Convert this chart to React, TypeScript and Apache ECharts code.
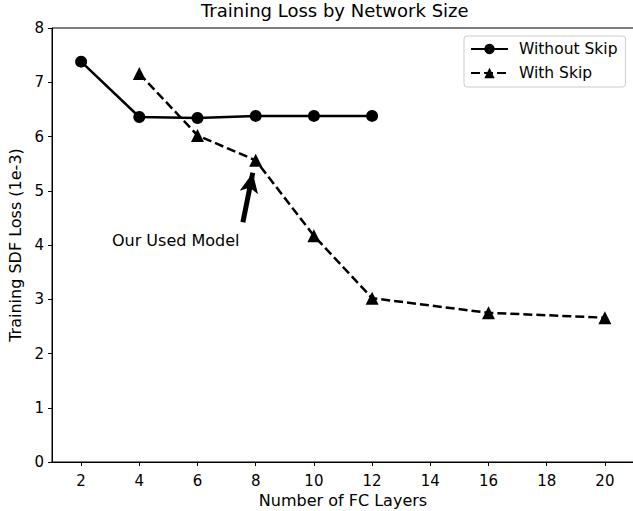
import React, { useEffect, useRef } from "react";
import * as echarts from "echarts";

const withoutSkipX = [2, 4, 6, 8, 10, 12];
const withoutSkipY = [7.38, 6.36, 6.34, 6.38, 6.38, 6.38];
const withSkipX = [4, 6, 8, 10, 12, 16, 20];
const withSkipY = [7.16, 6.02, 5.56, 4.17, 3.02, 2.75, 2.66];
const xTicks = [2, 4, 6, 8, 10, 12, 14, 16, 18, 20];
const arrowTail = [7.56, 4.42];
const arrowTip = [7.9, 5.33];
const annotationPos = [3.06, 4.09];
const annotationText = "Our Used Model";

const FONT = "DejaVu Sans";

export default function App() {
  const ref = useRef<HTMLDivElement>(null);
  useEffect(() => {
    if (!ref.current) return;
    const chart = echarts.init(ref.current, null, { renderer: "svg" });
    const pair = (xs: number[], ys: number[]) => xs.map((x, i) => [x, ys[i]]);
    chart.setOption({
      animation: false,
      backgroundColor: "#fff",
      textStyle: { fontFamily: FONT, color: "#000" },
      title: {
        text: "Training Loss by Network Size",
        left: 201,
        top: 1,
        padding: 0,
        textStyle: { fontFamily: FONT, fontSize: 18, fontWeight: "normal", color: "#000" },
      },
      grid: {
        left: 52,
        top: 28,
        width: 582,
        height: 434,
        containLabel: false,
        outerBoundsMode: "none",
        show: true,
        borderColor: "#000",
        borderWidth: 1,
      },
      legend: {
        orient: "vertical",
        left: 464,
        top: 36,
        padding: [5, 8, 6, 6],
        itemGap: 8,
        itemWidth: 37,
        itemHeight: 13,
        borderColor: "#cccccc",
        borderWidth: 1,
        borderRadius: 3,
        textStyle: { fontFamily: FONT, fontSize: 15.5, color: "#000", padding: [0, 0, 0, 6] },
        data: ["Without Skip", "With Skip"],
      },
      xAxis: {
        type: "value",
        min: 1,
        max: 21,
        name: "Number of FC Layers",
        nameLocation: "middle",
        nameGap: 30,
        nameTextStyle: { fontFamily: FONT, fontSize: 16, color: "#000" },
        splitLine: { show: false },
        axisLine: { lineStyle: { color: "#000", width: 1 } },
        axisTick: { length: 4, lineStyle: { color: "#000" }, customValues: xTicks },
        axisLabel: { customValues: xTicks, fontSize: 15, color: "#000", margin: 11, fontFamily: FONT },
      },
      yAxis: {
        type: "value",
        min: 0,
        max: 8,
        interval: 1,
        name: "Training SDF Loss (1e-3)",
        nameLocation: "middle",
        nameGap: 28,
        nameTextStyle: { fontFamily: FONT, fontSize: 16, color: "#000" },
        splitLine: { show: false },
        axisLine: { show: true, lineStyle: { color: "#000", width: 1 } },
        axisTick: { show: true, length: 4, lineStyle: { color: "#000" } },
        axisLabel: { fontSize: 15, color: "#000", margin: 8, fontFamily: FONT },
      },
      series: [
        {
          name: "Without Skip",
          type: "line",
          data: pair(withoutSkipX, withoutSkipY),
          symbol: "circle",
          symbolSize: 12,
          itemStyle: { color: "#000" },
          lineStyle: { color: "#000", width: 2.5 },
        },
        {
          name: "With Skip",
          type: "line",
          data: pair(withSkipX, withSkipY),
          symbol: "triangle",
          symbolSize: 13,
          itemStyle: { color: "#000" },
          lineStyle: { color: "#000", width: 2.5, type: [9, 4] },
          markLine: {
            silent: true,
            symbol: ["none", "arrow"],
            symbolSize: [14, 20],
            label: { show: false },
            lineStyle: { color: "#000", width: 5, type: "solid" },
            data: [[{ coord: arrowTail }, { coord: arrowTip }]],
          },
          markPoint: {
            silent: true,
            symbol: "circle",
            symbolSize: 0,
            data: [
              {
                coord: annotationPos,
                label: {
                  show: true,
                  position: "right",
                  distance: 0,
                  formatter: annotationText,
                  fontFamily: FONT,
                  fontSize: 16,
                  color: "#000",
                },
              },
            ],
          },
        },
      ],
    });
    return () => chart.dispose();
  }, []);
  return (
    <div
      ref={ref}
      style={{ position: "fixed", left: 0, top: 0, width: 633, height: 511 }}
    />
  );
}
